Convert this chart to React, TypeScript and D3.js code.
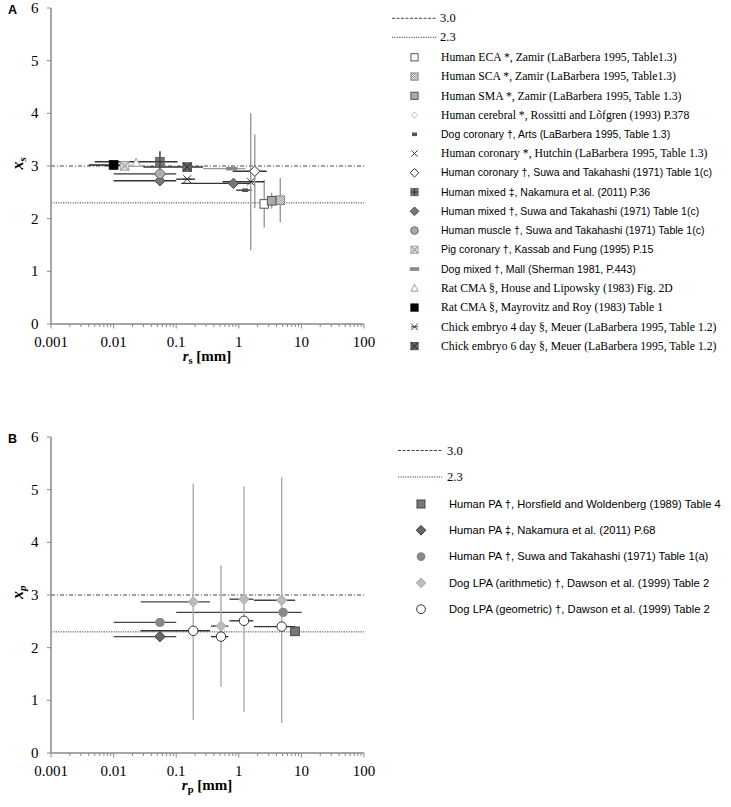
import React from 'react';
import * as d3 from 'd3';

// ---------- shared axis data ----------
const xTicks = [0.001, 0.01, 0.1, 1, 10, 100];
const xTickLabels = ['0.001', '0.01', '0.1', '1', '10', '100'];
const yTicks = [0, 1, 2, 3, 4, 5, 6];
const refValues = [3.0, 2.3];
const refLabels = ['3.0', '2.3'];

// ---------- Panel A series: [r (mm), x, rErr, xErr] ----------
const humanECA = [[2.55, 2.28, 0, 0.45]];
const humanSCA = [[4.6, 2.35, 0, 0.42]];
const humanSMA = [[3.35, 2.34, 0, 0.15]];
const humanCerebral = [[0.055, 2.86, 0, 0]];
const dogCoronary = [[1.26, 2.54, 0.35, 0]];
const humanCoronaryHutchin = [[1.55, 2.7, 1.0, 1.3]];
const humanCoronarySuwa = [[1.8, 2.9, 1.0, 0.7]];
const humanMixedNakamura = [[0.055, 3.08, 0.05, 0.2]];
const humanMixedSuwa = [[0.055, 2.72, 0.045, 0], [0.82, 2.67, 0.7, 0]];
const humanMuscle = [[0.055, 2.85, 0.045, 0]];
const pigCoronary = [[0.015, 3.0, 0.008, 0]];
const dogMixed = [[0.77, 2.95, 0.5, 0]];
const ratHouse = [[0.023, 3.06, 0, 0]];
const ratMayrovitz = [[0.01, 3.02, 0.006, 0]];
const chick4 = [[0.15, 2.75, 0.05, 0]];
const chick6 = [[0.15, 2.98, 0.12, 0]];

const legendLabelsA = [
  'Human ECA *, Zamir (LaBarbera 1995, Table1.3)',
  'Human SCA *, Zamir (LaBarbera 1995, Table1.3)',
  'Human SMA *, Zamir (LaBarbera 1995, Table 1.3)',
  'Human cerebral *, Rossitti and Lõfgren (1993) P.378',
  'Dog coronary †, Arts (LaBarbera 1995, Table 1.3)',
  'Human coronary *, Hutchin (LaBarbera 1995, Table 1.3)',
  'Human coronary †, Suwa and Takahashi (1971) Table 1(c)',
  'Human mixed ‡, Nakamura et al. (2011) P.36',
  'Human mixed †, Suwa and Takahashi (1971) Table 1(c)',
  'Human muscle †, Suwa and Takahashi (1971) Table 1(c)',
  'Pig coronary †, Kassab and Fung (1995) P.15',
  'Dog mixed †, Mall (Sherman 1981, P.443)',
  'Rat CMA §, House and Lipowsky (1983) Fig. 2D',
  'Rat CMA §, Mayrovitz and Roy (1983) Table 1',
  'Chick embryo 4 day §, Meuer (LaBarbera 1995, Table 1.2)',
  'Chick embryo 6 day §, Meuer (LaBarbera 1995, Table 1.2)',
];

// ---------- Panel B series: [r (mm), x, rErr, xErr] ----------
const humanPAHorsfield = [[7.9, 2.31, 0, 0]];
const humanPANakamura = [[0.055, 2.21, 0.045, 0]];
const humanPASuwa = [[0.055, 2.48, 0.045, 0], [5.1, 2.67, 5.0, 0]];
const dogLPAArith = [[0.187, 2.87, 0.16, 2.24], [0.52, 2.41, 0.16, 1.15], [1.21, 2.92, 0.5, 2.14], [4.84, 2.9, 3.1, 2.33]];
const dogLPAGeo = [[0.187, 2.32, 0.16, 0], [0.52, 2.21, 0.16, 0], [1.21, 2.51, 0.5, 0], [4.84, 2.4, 3.1, 0]];

const legendLabelsB = [
  'Human PA †, Horsfield and Woldenberg (1989) Table 4',
  'Human PA ‡, Nakamura et al. (2011) P.68',
  'Human PA †, Suwa and Takahashi (1971) Table 1(a)',
  'Dog LPA (arithmetic) †, Dawson et al. (1999) Table 2',
  'Dog LPA (geometric) †, Dawson et al. (1999) Table 2',
];

const SERIF = '"Liberation Serif", "Times New Roman", serif';
const SANS = '"Liberation Sans", Arial, sans-serif';

type Series = { data: number[][]; kind: string; h: string; v: string; font: string; z?: number };

const seriesA: Series[] = [
  { data: humanECA, kind: 'sqWhite', h: '#333', v: '#999', font: SERIF },
  { data: humanSCA, kind: 'sqCheck', h: '#333', v: '#999', font: SERIF },
  { data: humanSMA, kind: 'sqGray', h: '#333', v: '#999', font: SERIF },
  { data: humanCerebral, kind: 'diamondSmall', h: '#999', v: '#999', font: SERIF, z: 1 },
  { data: dogCoronary, kind: 'dashDark', h: '#333', v: '#999', font: SANS },
  { data: humanCoronaryHutchin, kind: 'xDark', h: '#333', v: '#999', font: SERIF },
  { data: humanCoronarySuwa, kind: 'diamondWhite', h: '#333', v: '#999', font: SANS },
  { data: humanMixedNakamura, kind: 'sqCross', h: '#333', v: '#333', font: SANS },
  { data: humanMixedSuwa, kind: 'diamondDark', h: '#333', v: '#999', font: SANS },
  { data: humanMuscle, kind: 'circleGray', h: '#333', v: '#999', font: SANS },
  { data: pigCoronary, kind: 'sqX', h: '#999', v: '#999', font: SANS },
  { data: dogMixed, kind: 'dashGray', h: '#999', v: '#999', font: SANS },
  { data: ratHouse, kind: 'triangle', h: '#999', v: '#999', font: SERIF },
  { data: ratMayrovitz, kind: 'sqBlack', h: '#222', v: '#999', font: SERIF },
  { data: chick4, kind: 'asterisk', h: '#333', v: '#999', font: SERIF },
  { data: chick6, kind: 'sqXDark', h: '#333', v: '#999', font: SERIF },
];

const seriesB: Series[] = [
  { data: humanPAHorsfield, kind: 'sqDark', h: '#444', v: '#aaa', font: SANS },
  { data: humanPANakamura, kind: 'diamondDarkB', h: '#444', v: '#aaa', font: SANS },
  { data: humanPASuwa, kind: 'circleMid', h: '#444', v: '#aaa', font: SANS },
  { data: dogLPAArith, kind: 'diamondLight', h: '#444', v: '#aaa', font: SANS },
  { data: dogLPAGeo, kind: 'circleWhite', h: '#333', v: '#aaa', font: SANS },
];

function Marker({ kind, x, y, s }: { kind: string; x: number; y: number; s: number }) {
  const sq = (fill: string, stroke: string, sw = 1) => (
    <rect x={x - s} y={y - s} width={2 * s} height={2 * s} fill={fill} stroke={stroke} strokeWidth={sw} />
  );
  const dia = (k: number, fill: string, stroke: string) => (
    <polygon points={`${x},${y - s * k} ${x + s * k},${y} ${x},${y + s * k} ${x - s * k},${y}`} fill={fill} stroke={stroke} strokeWidth={1} />
  );
  const xl = (k: number, stroke: string, sw = 1) => (
    <g stroke={stroke} strokeWidth={sw}>
      <line x1={x - s * k} y1={y - s * k} x2={x + s * k} y2={y + s * k} />
      <line x1={x - s * k} y1={y + s * k} x2={x + s * k} y2={y - s * k} />
    </g>
  );
  switch (kind) {
    case 'sqWhite': return sq('#fff', '#555');
    case 'sqCheck': return sq('url(#checkPat)', '#888');
    case 'sqGray': return sq('#aaa', '#555');
    case 'diamondSmall': return dia(0.85, 'none', '#bbb');
    case 'dashDark': return <rect x={x - s * 0.7} y={y - 1.8} width={s * 1.4} height={3.6} fill="#555" />;
    case 'xDark': return xl(0.85, '#333');
    case 'diamondWhite': return dia(1.2, '#fff', '#333');
    case 'sqCross': return <g>{sq('#777', '#666')}<g stroke="#333" strokeWidth={1}><line x1={x - s} y1={y} x2={x + s} y2={y} /><line x1={x} y1={y - s} x2={x} y2={y + s} /></g></g>;
    case 'diamondDark': return dia(1.2, '#777', '#444');
    case 'circleGray': return <circle cx={x} cy={y} r={s * 1.05} fill="#aaa" stroke="#666" strokeWidth={1} />;
    case 'sqX': return <g>{sq('#ddd', '#aaa')}{xl(1, '#888')}</g>;
    case 'dashGray': return <rect x={x - s * 1.3} y={y - 1.8} width={s * 2.6} height={3.6} fill="#888" />;
    case 'triangle': return <polygon points={`${x},${y - s * 1.1} ${x + s},${y + s * 0.8} ${x - s},${y + s * 0.8}`} fill="#fff" stroke="#999" strokeWidth={1} />;
    case 'sqBlack': return sq('#000', '#000');
    case 'asterisk': return <g>{xl(0.9, '#333')}<line x1={x - s} y1={y} x2={x + s} y2={y} stroke="#333" strokeWidth={1} /></g>;
    case 'sqXDark': return <g>{sq('#666', '#555')}{xl(1, '#222')}</g>;
    case 'sqDark': return sq('#777', '#444');
    case 'diamondDarkB': return dia(1.2, '#666', '#333');
    case 'circleMid': return <circle cx={x} cy={y} r={s * 1.1} fill="#888" />;
    case 'diamondLight': return dia(1.2, '#bbb', '#aaa');
    case 'circleWhite': return <circle cx={x} cy={y} r={s * 1.1} fill="#fff" stroke="#333" strokeWidth={1} />;
    default: return null;
  }
}

type PanelProps = {
  letter: string;
  yTop: number;
  sub: string;
  series: Series[];
  labels: string[];
  legend: { lx1: number; lx2: number; ltx: number; refY: number[]; mx: number; tx: number; row0: number; pitch: number; fs: number; ms: number; sansFs: number };
};

function Panel({ letter, yTop, sub, series, labels, legend }: PanelProps) {
  const yBottom = yTop + 316;
  const x = d3.scaleLog().domain([0.001, 100]).range([51, 364]);
  const y = d3.scaleLinear().domain([0, 6]).range([yBottom, yTop]);
  const minor: number[] = [];
  for (let d = 0.001; d < 99; d *= 10) for (let k = 2; k <= 9; k++) minor.push(+(d * k).toPrecision(3));
  const ordered = series.map((s, i) => ({ ...s, i })).sort((a, b) => (a.z || 0) - (b.z || 0));
  return (
    <g>
      <text x={8} y={yTop + 6} fontFamily={SANS} fontWeight="bold" fontSize={12.5}>{letter}</text>
      {/* reference lines */}
      <line x1={x(0.001)} x2={x(100)} y1={y(refValues[0])} y2={y(refValues[0])} stroke="#444" strokeWidth={1} strokeDasharray="4,2,1,2" />
      <line x1={x(0.001)} x2={x(100)} y1={y(refValues[1])} y2={y(refValues[1])} stroke="#444" strokeWidth={1} strokeDasharray="1.2,1.2" />
      {/* error bars */}
      {series.map((s, si) => s.data.map((p, pi) => (
        <g key={`e${si}-${pi}`}>
          {p[3] > 0 && <line x1={x(p[0])} x2={x(p[0])} y1={y(p[1] + p[3])} y2={y(p[1] - p[3])} stroke={s.v} strokeWidth={1.4} />}
          {p[2] > 0 && <line x1={x(Math.max(p[0] - p[2], 0.001))} x2={x(p[0] + p[2])} y1={y(p[1])} y2={y(p[1])} stroke={s.h} strokeWidth={1.4} />}
        </g>
      )))}
      {/* markers */}
      {ordered.map((s) => s.data.map((p, pi) => (
        <Marker key={`m${s.i}-${pi}`} kind={s.kind} x={x(p[0])} y={y(p[1])} s={4.3} />
      )))}
      {/* y axis */}
      <line x1={51} x2={51} y1={yTop} y2={yBottom} stroke="#888" strokeWidth={1.5} />
      {yTicks.map((t) => (
        <g key={`yt${t}`}>
          <line x1={47} x2={51} y1={y(t)} y2={y(t)} stroke="#888" strokeWidth={1} />
          <text x={38.5} y={y(t)} dy="0.33em" textAnchor="end" fontFamily={SERIF} fontSize={15}>{t}</text>
        </g>
      ))}
      {/* x axis */}
      <line x1={51} x2={364} y1={yBottom} y2={yBottom} stroke="#888" strokeWidth={1.5} />
      {minor.map((t) => (
        <line key={`mn${t}`} x1={x(t)} x2={x(t)} y1={yBottom} y2={yBottom + 3} stroke="#888" strokeWidth={1} />
      ))}
      {xTicks.map((t, i) => (
        <g key={`xt${t}`}>
          <line x1={x(t)} x2={x(t)} y1={yBottom} y2={yBottom + 4.5} stroke="#888" strokeWidth={1} />
          <text x={x(t)} y={yBottom + 23} textAnchor="middle" fontFamily={SERIF} fontSize={15}>{xTickLabels[i]}</text>
        </g>
      ))}
      {/* axis titles */}
      <text x={207} y={yBottom + 37} textAnchor="middle" fontFamily={SERIF} fontWeight="bold" fontSize={15}>
        <tspan fontStyle="italic">r</tspan>
        <tspan fontSize={10.5} dy={3}>{sub}</tspan>
        <tspan dy={-3}> [mm]</tspan>
      </text>
      <text transform={`translate(23,${y(3.05)}) rotate(-90)`} textAnchor="middle" fontFamily={SERIF} fontWeight="bold" fontSize={16}>
        <tspan fontStyle="italic">x</tspan>
        <tspan fontSize={11} fontStyle="italic" dy={3}>{sub}</tspan>
      </text>
      {/* legend */}
      <line x1={legend.lx1} x2={legend.lx2} y1={legend.refY[0]} y2={legend.refY[0]} stroke="#444" strokeWidth={1} strokeDasharray="3,1.5" />
      <line x1={legend.lx1} x2={legend.lx2} y1={legend.refY[1]} y2={legend.refY[1]} stroke="#444" strokeWidth={1} strokeDasharray="1.2,1.2" />
      {refLabels.map((l, i) => (
        <text key={`rl${i}`} x={legend.ltx} y={legend.refY[i]} dy="0.33em" fontFamily={SERIF} fontSize={12.5}>{l}</text>
      ))}
      {series.map((s, i) => {
        const ry = legend.row0 + i * legend.pitch;
        return (
          <g key={`lg${i}`}>
            <Marker kind={s.kind} x={legend.mx} y={ry} s={legend.ms} />
            <text x={legend.tx} y={ry} dy="0.33em" fontFamily={s.font} fontSize={s.font === SERIF ? legend.fs : legend.sansFs}>{labels[i]}</text>
          </g>
        );
      })}
    </g>
  );
}

export default function App() {
  return (
    <svg width={731} height={807} style={{ display: 'block', position: 'absolute', left: 0, top: 0 }}>
      <defs>
        <pattern id="checkPat" width={2} height={2} patternUnits="userSpaceOnUse">
          <rect width={2} height={2} fill="#e6e6e6" />
          <rect width={1} height={1} fill="#999" />
          <rect x={1} y={1} width={1} height={1} fill="#999" />
        </pattern>
      </defs>
      <rect width={731} height={807} fill="#fff" />
      <Panel letter="A" yTop={8} sub="s" series={seriesA} labels={legendLabelsA}
        legend={{ lx1: 392, lx2: 437, ltx: 440, refY: [18.3, 37.3], mx: 414.5, tx: 441, row0: 57.3, pitch: 19.25, fs: 11.7, ms: 3.6, sansFs: 10.5 }} />
      <Panel letter="B" yTop={437} sub="p" series={seriesB} labels={legendLabelsB}
        legend={{ lx1: 398, lx2: 442, ltx: 447, refY: [450.5, 477], mx: 421, tx: 449, row0: 504, pitch: 26.3, fs: 12.5, ms: 4, sansFs: 11.2 }} />
    </svg>
  );
}
